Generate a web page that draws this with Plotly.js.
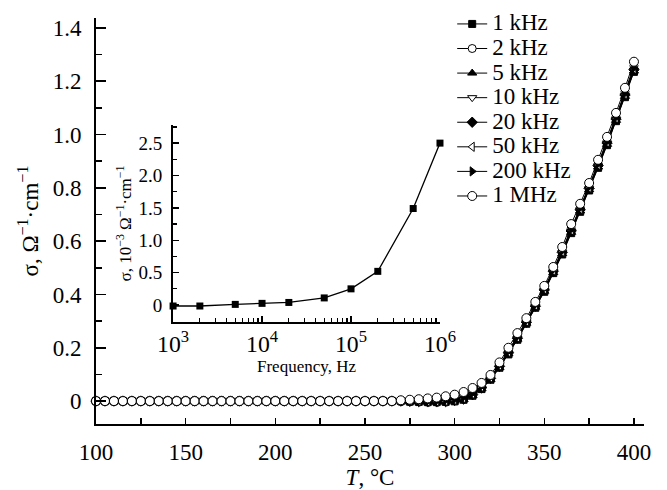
<!DOCTYPE html>
<html>
<head>
<meta charset="utf-8">
<script src="https://cdn.plot.ly/plotly-3.0.1.min.js"></script>
<style>html,body{margin:0;padding:0;background:#fff;}#chart{width:667px;height:490px;}</style>
</head>
<body>
<div id="chart"></div>
<script>
// Temperature, °C
var tempC = [100,105,110,115,120,125,130,135,140,145,150,155,160,165,170,175,180,185,190,195,
  200,205,210,215,220,225,230,235,240,245,250,255,260,265,270,275,280,285,290,295,
  300,305,310,315,320,325,330,335,340,345,350,355,360,365,370,375,380,385,390,395,400];

// sigma, Ohm^-1 cm^-1 (100–265 °C: flat at zero)
var flat = [0,0,0,0,0,0,0,0,0,0,0,0,0,0,0,0,0,0,0,0,0,0,0,0,0,0,0,0,0,0,0,0,0,0];
var s1k   = flat.concat([0,-0.002,-0.003,-0.004,-0.004,-0.003,-0.001,0.005,0.020,0.045,0.080,0.125,0.175,0.230,0.290,0.350,0.410,0.480,0.550,0.630,0.710,0.790,0.875,0.960,1.050,1.140,1.235]);
var s2k   = flat.concat([0.001,0.002,0.003,0.005,0.007,0.010,0.015,0.024,0.038,0.058,0.090,0.135,0.188,0.243,0.300,0.361,0.421,0.490,0.565,0.648,0.726,0.804,0.890,0.976,1.066,1.160,1.258]);
var s5k   = flat.concat([0,-0.002,-0.003,-0.004,-0.004,-0.003,0.000,0.006,0.021,0.046,0.081,0.126,0.177,0.232,0.292,0.352,0.412,0.482,0.553,0.633,0.713,0.793,0.878,0.963,1.053,1.143,1.238]);
var s10k  = flat.concat([0,-0.001,-0.002,-0.003,-0.003,-0.002,0.001,0.007,0.022,0.048,0.083,0.128,0.179,0.234,0.294,0.354,0.415,0.485,0.556,0.636,0.716,0.796,0.881,0.966,1.056,1.146,1.241]);
var s20k  = flat.concat([0,-0.001,-0.002,-0.003,-0.003,-0.002,0.002,0.008,0.024,0.050,0.085,0.130,0.181,0.236,0.296,0.356,0.417,0.487,0.558,0.638,0.718,0.798,0.883,0.968,1.058,1.148,1.243]);
var s50k  = flat.concat([0,0,-0.001,-0.002,-0.002,-0.001,0.003,0.010,0.026,0.052,0.087,0.132,0.183,0.238,0.298,0.358,0.419,0.489,0.560,0.640,0.720,0.800,0.885,0.970,1.060,1.150,1.245]);
var s200k = flat.concat([0.001,0.001,0.000,0.000,0.001,0.003,0.006,0.014,0.030,0.056,0.091,0.136,0.187,0.242,0.302,0.362,0.423,0.493,0.564,0.644,0.724,0.804,0.889,0.974,1.064,1.154,1.249]);
var s1M   = flat.concat([0.003,0.005,0.007,0.010,0.013,0.018,0.024,0.034,0.049,0.068,0.098,0.145,0.200,0.255,0.311,0.372,0.432,0.503,0.578,0.664,0.740,0.818,0.905,0.991,1.081,1.175,1.273]);

var seriesNames = ['1 kHz','2 kHz','5 kHz','10 kHz','20 kHz','50 kHz','200 kHz','1 MHz'];
var seriesValues = [s1k, s2k, s5k, s10k, s20k, s50k, s200k, s1M];

// Inset: conductivity vs frequency, 10^-3 Ohm^-1 cm^-1
var freqHz = [1e3, 2e3, 5e3, 1e4, 2e4, 5e4, 1e5, 2e5, 5e5, 1e6];
var sigmaInset = [-0.015, -0.015, 0.01, 0.026, 0.04, 0.11, 0.25, 0.52, 1.49, 2.5];

var symbols = ['square','circle','triangle-up','triangle-down','diamond','triangle-left','triangle-right','circle'];
var fills   = ['#000','#fff','#000','#fff','#000','#fff','#000','#fff'];
var sizes   = [7,8,8,8,8,8,8,9];

var FONT = 'Liberation Serif, Times New Roman, serif';
var traces = [];
for (var i = 0; i < seriesNames.length; i++) {
  traces.push({
    x: tempC, y: seriesValues[i],
    name: '<span style="font-size:23px">' + seriesNames[i] + '</span>',
    type: 'scatter', mode: 'lines+markers',
    line: {color: '#000', width: 1},
    marker: {symbol: symbols[i], size: sizes[i], color: fills[i], line: {color: '#000', width: 1}},
    cliponaxis: false
  });
}
traces.push({
  x: freqHz, y: sigmaInset, xaxis: 'x2', yaxis: 'y2', showlegend: false,
  type: 'scatter', mode: 'lines+markers',
  line: {color: '#000', width: 1.3},
  marker: {symbol: 'square', size: 7, color: '#000'},
  cliponaxis: false
});

var layout = {
  width: 667, height: 490,
  margin: {l: 96, r: 23, t: 18, b: 66, autoexpand: false},
  paper_bgcolor: '#fff', plot_bgcolor: 'rgba(0,0,0,0)',
  font: {family: FONT, color: '#000', size: 22},
  showlegend: true,
  legend: {x: 0.65, y: 1.028, xanchor: 'left', yanchor: 'top', bgcolor: 'rgba(0,0,0,0)',
    font: {family: FONT, size: 16.6, color: '#000'}, tracegroupgap: 0},
  xaxis: {
    range: [100, 405.6], showline: true, linewidth: 2, linecolor: '#000', showgrid: false, zeroline: false,
    ticks: 'inside', ticklen: 6, tickwidth: 1.5, tickcolor: '#000', tick0: 100, dtick: 50,
    minor: {ticks: 'inside', ticklen: 6, tickwidth: 1.5, tickcolor: '#000', dtick: 25, showgrid: false},
    tickfont: {family: FONT, size: 23}, ticklabelstandoff: 6,
    title: {text: '<i>T</i>, °C', font: {family: FONT, size: 23}, standoff: 2}
  },
  yaxis: {
    range: [-0.086, 1.437], showline: true, linewidth: 2, linecolor: '#000', showgrid: false, zeroline: false,
    ticks: 'inside', ticklen: 10, tickwidth: 1.5, tickcolor: '#000', tick0: 0, dtick: 0.2,
    minor: {ticks: 'inside', ticklen: 6, tickwidth: 1.5, tickcolor: '#000', dtick: 0.1, showgrid: false},
    labelalias: {'1': '1.0'},
    tickfont: {family: FONT, size: 23}, ticklabelstandoff: 8,
    title: {text: 'σ, Ω<sup>−1</sup>·cm<sup>−1</sup>', font: {family: FONT, size: 23}, standoff: 8}
  },
  xaxis2: {
    type: 'log', range: [2.999, 6], domain: [0.1405, 0.6277], anchor: 'y2',
    showline: true, linewidth: 2, linecolor: '#000', showgrid: false, zeroline: false,
    ticks: 'inside', ticklen: 6, tickwidth: 1.5, tickcolor: '#000', dtick: 1, exponentformat: 'power',
    minor: {ticks: 'inside', ticklen: 4, tickwidth: 1.2, tickcolor: '#000', dtick: 'D1', showgrid: false},
    tickfont: {family: FONT, size: 19}, ticklabelstandoff: 0,
    title: {text: 'Frequency, Hz', font: {family: FONT, size: 17}, standoff: 4}
  },
  yaxis2: {
    range: [-0.262, 2.78], domain: [0.2512, 0.7365], anchor: 'x2',
    showline: true, linewidth: 2, linecolor: '#000', showgrid: false, zeroline: false,
    ticks: 'inside', ticklen: 6, tickwidth: 1.5, tickcolor: '#000', tick0: 0, dtick: 0.5,
    minor: {ticks: 'inside', ticklen: 4, tickwidth: 1.2, tickcolor: '#000', dtick: 0.25, showgrid: false},
    labelalias: {'1': '1.0', '2': '2.0'},
    tickfont: {family: FONT, size: 19}, ticklabelstandoff: 5,
    title: {text: 'σ, 10<sup>−3</sup> Ω<sup>−1</sup>·cm<sup>−1</sup>', font: {family: FONT, size: 17}, standoff: 2}
  }
};

Plotly.newPlot('chart', traces, layout, {staticPlot: true, displayModeBar: false});
</script>
</body>
</html>
